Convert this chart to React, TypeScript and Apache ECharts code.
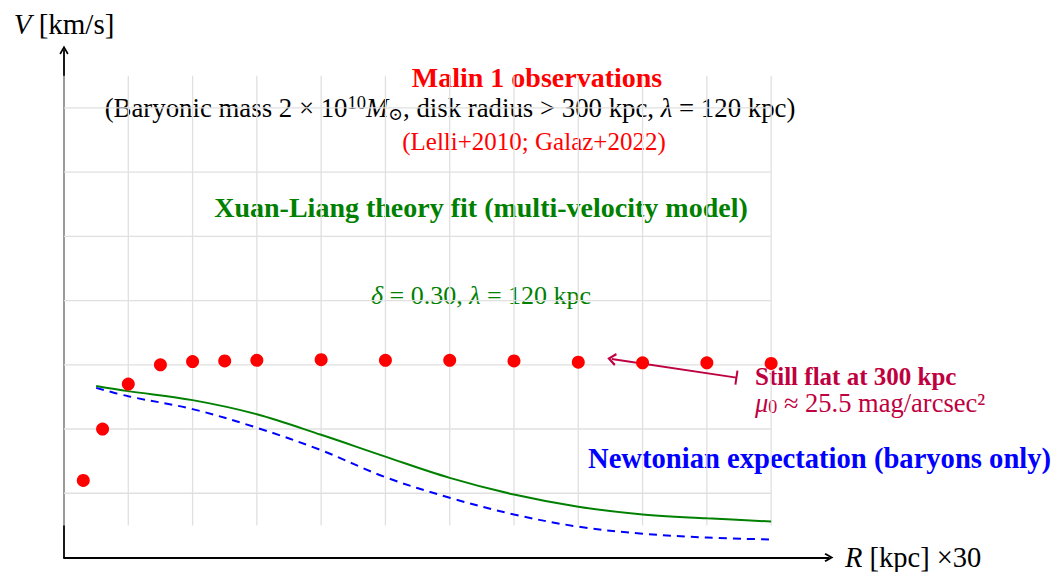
import React, { useEffect, useRef } from "react";
import * as echarts from "echarts";

// Observations (R in units of 30 kpc, V in plot units)
const obsR = [0.3, 0.6, 1, 1.5, 2, 2.5, 3, 4, 5, 6, 7, 8, 9, 10, 11];
const obsV = [1.2, 2.0, 2.7, 3.0, 3.05, 3.06, 3.07, 3.08, 3.07, 3.07, 3.06, 3.04, 3.03, 3.03, 3.02];

// Model curves
const modelR = [0.5, 1, 2, 3, 4, 5, 6, 7, 8, 9, 10, 11];
const fitV = [2.67, 2.59, 2.45, 2.23, 1.91, 1.57, 1.24, 0.98, 0.79, 0.67, 0.61, 0.56];
const newtonV = [2.64, 2.51, 2.31, 2.02, 1.67, 1.25, 0.93, 0.67, 0.48, 0.37, 0.31, 0.28];

// Help grid
const gridXs = [0, 1, 2, 3, 4, 5, 6, 7, 8, 9, 10, 11];
const gridYs = [1, 2, 3, 4, 5, 6, 7];
const gridXExtent = [0, 11];
const gridYExtent = [0.5, 7.5];

// Annotation arrow ("Still flat at 300 kpc")
const arrowFrom = [10.46, 2.8];
const arrowTo = [8.52, 3.09];

const FONT = "'Liberation Serif', 'DejaVu Serif', serif";
const CHEVRON = "path://M5,0 L10,8.6 L8.4,9.8 L5,3.6 L1.6,9.8 L0,8.6 Z";
const BAR = "path://M0,0 L10,0 L10,2 L0,2 Z";
const PURPLE = "#bf0040";

export default function App() {
  const ref = useRef<HTMLDivElement>(null);

  useEffect(() => {
    document.body.style.margin = "0";
    if (!ref.current) return;
    const chart = echarts.init(ref.current, null, { renderer: "svg" });

    const gridLineStyle = { color: "#e0e0e0", width: 1.3 };
    const gridSeries: any[] = [
      ...gridXs.map((x) => ({
        type: "line",
        data: [
          [x, gridYExtent[0]],
          [x, gridYExtent[1]],
        ],
        symbol: "none",
        silent: true,
        lineStyle: gridLineStyle,
        z: 1,
      })),
      ...gridYs.map((y) => ({
        type: "line",
        data: [
          [gridXExtent[0], y],
          [gridXExtent[1], y],
        ],
        symbol: "none",
        silent: true,
        lineStyle: gridLineStyle,
        z: 1,
      })),
    ];

    const txt = (
      x: number,
      y: number,
      text: string,
      size: number,
      color: string,
      opts: any = {}
    ) => ({
      type: "text",
      x,
      y,
      silent: true,
      style: {
        text,
        fill: color,
        fontFamily: FONT,
        fontSize: size,
        fontWeight: opts.bold ? "bold" : "normal",
        align: opts.align || "center",
        verticalAlign: "middle",
        textAlign: opts.align || "center",
        textVerticalAlign: "middle",
        lineHeight: opts.lineHeight,
        rich: opts.rich,
      },
    });

    const option: any = {
      animation: false,
      grid: { left: 64, top: 50, width: 765, height: 508 },
      xAxis: {
        type: "value",
        min: 0,
        max: 11.9,
        axisLine: {
          show: true,
          symbol: ["none", CHEVRON],
          symbolSize: [14, 9],
          lineStyle: { color: "#000", width: 1.8 },
        },
        axisTick: { show: false },
        axisLabel: { show: false },
        splitLine: { show: false },
        name: "{i|R} [kpc] ×30",
        nameLocation: "end",
        nameGap: 16,
        nameTextStyle: {
          fontFamily: FONT,
          fontSize: 28.5,
          color: "#000",
          verticalAlign: "middle",
          rich: { i: { fontFamily: FONT, fontSize: 28.5, fontStyle: "italic", color: "#000" } },
        },
      },
      yAxis: {
        type: "value",
        min: 0,
        max: 7.9,
        axisLine: {
          show: true,
          symbol: ["none", CHEVRON],
          symbolSize: [14, 9],
          lineStyle: { color: "#000", width: 1.8 },
        },
        axisTick: { show: false },
        axisLabel: { show: false },
        splitLine: { show: false },
        name: "{i|V} [km/s]",
        nameLocation: "end",
        nameGap: 12,
        nameTextStyle: {
          fontFamily: FONT,
          fontSize: 29,
          color: "#000",
          rich: { i: { fontFamily: FONT, fontSize: 29, fontStyle: "italic", color: "#000" } },
        },
      },
      series: [
        ...gridSeries,
        {
          name: "Xuan-Liang fit",
          type: "line",
          data: modelR.map((r, i) => [r, fitV[i]]),
          smooth: 0.35,
          symbol: "none",
          lineStyle: { color: "#008000", width: 2 },
          z: 3,
        },
        {
          name: "Newtonian",
          type: "line",
          data: modelR.map((r, i) => [r, newtonV[i]]),
          smooth: 0.35,
          symbol: "none",
          lineStyle: { color: "#0000ff", width: 2, type: [8, 6] },
          z: 3,
        },
        {
          name: "Malin 1 observations",
          type: "scatter",
          data: obsR.map((r, i) => [r, obsV[i]]),
          symbolSize: 13,
          itemStyle: { color: "#ff0000", opacity: 1 },
          z: 5,
          markLine: {
            silent: true,
            animation: false,
            label: { show: false },
            lineStyle: { color: PURPLE, width: 2, type: "solid" },
            data: [
              [
                { coord: arrowFrom, symbol: BAR, symbolSize: [14, 2] },
                { coord: arrowTo, symbol: CHEVRON, symbolSize: [13, 9] },
              ],
            ],
          },
        },
      ],
      graphic: [
        txt(537, 77, "Malin 1 observations", 28, "#ff0000", { bold: true, lineHeight: 28 }),
        txt(
          450,
          108,
          "(Baryonic mass 2 × 10{sup|10}{it|M}{sub|⊙}, disk radius > 300 kpc, {it|λ} = 120 kpc)",
          26.8,
          "#000",
          {
            lineHeight: 30,
            rich: {
              sup: { fontFamily: FONT, fontSize: 18.5, verticalAlign: "top", fill: "#000", lineHeight: 30 },
              sub: { fontFamily: FONT, fontSize: 17.5, verticalAlign: "bottom", fill: "#000", lineHeight: 30 },
              it: { fontFamily: FONT, fontSize: 26.8, fontStyle: "italic", fill: "#000", lineHeight: 30 },
            },
          }
        ),
        txt(534, 141, "(Lelli+2010; Galaz+2022)", 25, "#ff0000", { lineHeight: 26 }),
        txt(481, 207, "Xuan-Liang theory fit (multi-velocity model)", 28, "#008000", { bold: true }),
        txt(481, 295, "{it|δ} = 0.30, {it|λ} = 120 kpc", 26, "#008000", {
          rich: { it: { fontFamily: FONT, fontSize: 26, fontStyle: "italic", fill: "#008000" } },
        }),
        txt(755, 376, "Still flat at 300 kpc", 25, PURPLE, { bold: true, align: "left", lineHeight: 23 }),
        txt(755, 403, "{it|μ}{sub|0} ≈ 25.5 mag/arcsec²", 26.5, PURPLE, {
          align: "left",
          lineHeight: 25,
          rich: {
            it: { fontFamily: FONT, fontSize: 26.5, fontStyle: "italic", fill: PURPLE, lineHeight: 25 },
            sub: { fontFamily: FONT, fontSize: 18, verticalAlign: "bottom", fill: PURPLE, lineHeight: 25 },
          },
        }),
        txt(588, 458, "Newtonian expectation (baryons only)", 28.6, "#0000ff", { bold: true, align: "left" }),
      ],
    };

    chart.setOption(option);
    return () => chart.dispose();
  }, []);

  return <div ref={ref} style={{ width: 1052, height: 572 }} />;
}
